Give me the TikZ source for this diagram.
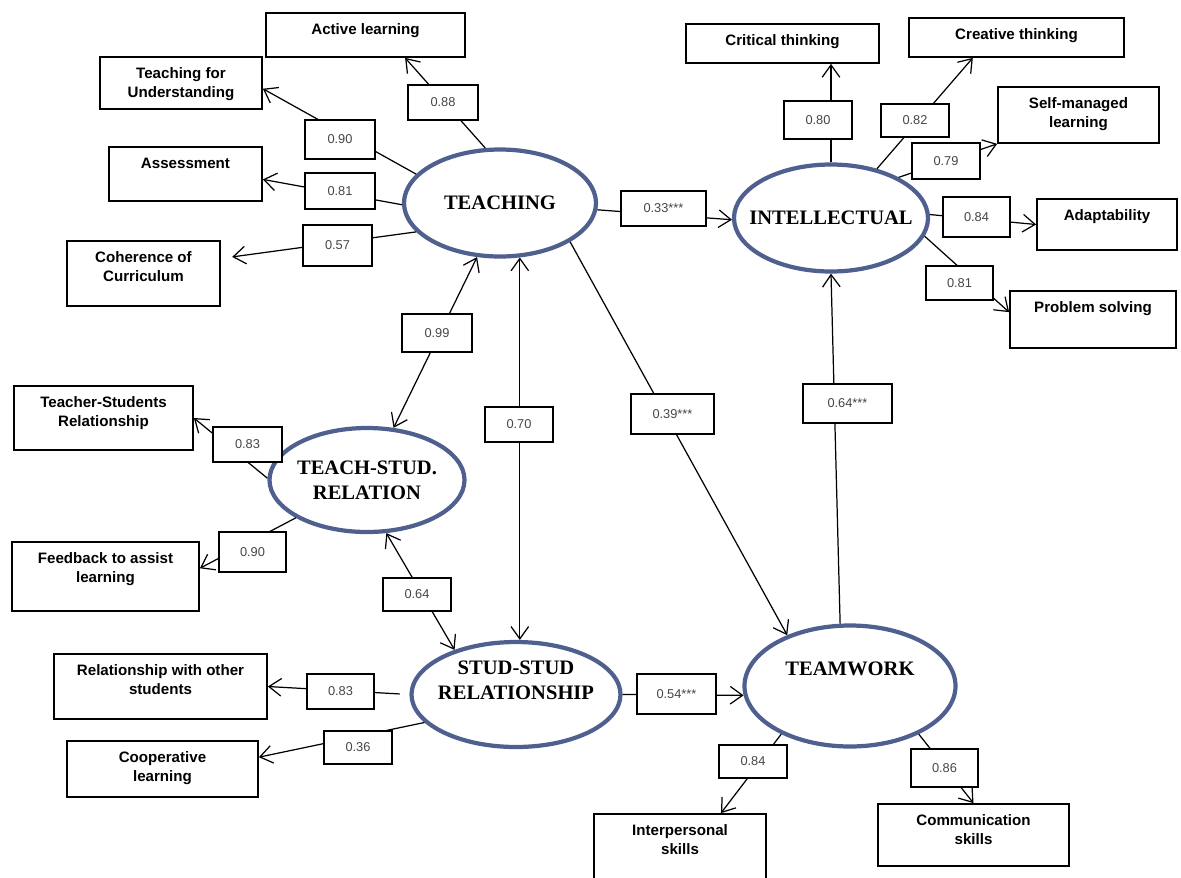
\documentclass[tikz,border=0pt]{standalone}
\usepackage{fontspec}
\setmainfont{Liberation Serif}
\setsansfont{Liberation Sans}
\usetikzlibrary{shapes.geometric,arrows.meta}
\newlength{\unitpx}
\setlength{\unitpx}{0.02cm}
\definecolor{latentblue}{RGB}{80,96,142}
\definecolor{estgray}{RGB}{70,70,70}

\begin{document}
\begin{tikzpicture}[x=\unitpx, y=-\unitpx,
  latent/.style={ellipse, draw=latentblue, line width=2.4pt, inner sep=-12pt, align=center,
    font=\bfseries\fontsize{11.7}{14.2}\selectfont},
  indic/.style={rectangle, draw, line width=1pt, inner sep=0pt},
  indtext/.style={anchor=north, yshift=-6.5pt, inner sep=0pt, align=center,
    font=\sffamily\bfseries\fontsize{8.6}{10.8}\selectfont},
  est/.style={rectangle, draw, fill=white, line width=0.9pt, inner sep=0pt, text=estgray,
    font=\sffamily\fontsize{7.3}{9}\selectfont},
  load/.style={line width=0.7pt, -{Straight Barb[length=7pt,width=10pt]}},
  corr/.style={line width=0.7pt, {Straight Barb[length=7pt,width=10pt]}-{Straight Barb[length=7pt,width=10pt]}}]
  \fill[white] (0,0) rectangle (1181,877);
  \useasboundingbox (0,0) rectangle (1181,877);
  \clip (0,0) rectangle (1181,877);

  % latent variables
  \node[latent, minimum width=192\unitpx, minimum height=107\unitpx] (teach) at (500,203) {TEACHING};
  \node[latent, minimum width=194\unitpx, minimum height=107\unitpx] (intel) at (831,218) {INTELLECTUAL};
  \node[latent, minimum width=195\unitpx, minimum height=104\unitpx] (tsrel) at (367,480) {TEACH-STUD.\\RELATION};
  \node[latent, minimum width=209\unitpx, minimum height=105\unitpx, text depth=16pt] (ssrel) at (516,694.5) {STUD-STUD\\RELATIONSHIP};
  \node[latent, minimum width=211\unitpx, minimum height=121\unitpx, text depth=20pt] (team) at (850,686) {TEAMWORK};

  % indicators
  \node[indic, minimum width=199\unitpx, minimum height=44\unitpx, label={[indtext]north:Active learning}] (actl) at (365.5,35) {};
  \node[indic, minimum width=162\unitpx, minimum height=52\unitpx, label={[indtext]north:{Teaching for\\Understanding}}] (tfu) at (181,83) {};
  \node[indic, minimum width=153\unitpx, minimum height=54\unitpx, label={[indtext]north:Assessment}] (asse) at (185.5,174) {};
  \node[indic, minimum width=153\unitpx, minimum height=65\unitpx, label={[indtext]north:{Coherence of\\Curriculum}}] (cohe) at (143.5,273.5) {};
  \node[indic, minimum width=193\unitpx, minimum height=39\unitpx, label={[indtext]north:Critical thinking}] (crit) at (782.5,43.5) {};
  \node[indic, minimum width=215\unitpx, minimum height=39\unitpx, label={[indtext]north:Creative thinking}] (crea) at (1016.5,37.5) {};
  \node[indic, minimum width=161\unitpx, minimum height=56\unitpx, label={[indtext]north:{Self-managed\\learning}}] (selfm) at (1078.5,115) {};
  \node[indic, minimum width=140\unitpx, minimum height=51\unitpx, label={[indtext]north:Adaptability}] (adapt) at (1107,224.5) {};
  \node[indic, minimum width=166\unitpx, minimum height=57\unitpx, label={[indtext]north:Problem solving}] (probs) at (1093,319.5) {};
  \node[indic, minimum width=179\unitpx, minimum height=64\unitpx, label={[indtext]north:{Teacher-Students\\Relationship}}] (tsr) at (103.5,418) {};
  \node[indic, minimum width=187\unitpx, minimum height=69\unitpx, label={[indtext]north:{Feedback to assist\\learning}}] (feed) at (105.5,576.5) {};
  \node[indic, minimum width=213\unitpx, minimum height=65\unitpx, label={[indtext]north:{Relationship with other\\students}}] (relo) at (160.5,686.5) {};
  \node[indic, minimum width=191\unitpx, minimum height=56\unitpx, label={[indtext]north:{Cooperative\\learning}}] (coop) at (162.5,769) {};
  \node[indic, minimum width=172\unitpx, minimum height=72\unitpx, label={[indtext]north:{Interpersonal\\skills}}] (inter) at (680,850) {};
  \node[indic, minimum width=191\unitpx, minimum height=62\unitpx, label={[indtext]north:{Communication\\skills}}] (comm) at (973.5,835) {};

  % measurement paths
  \draw[load] (teach.105) -- (actl.-30);
  \draw[load] (teach.161) -- (tfu.-4);
  \draw[load] (teach.181) -- (asse.-4.5);
  \draw[load, shorten >=6.5pt] (teach.199) -- (cohe.11.5);
  \draw[load] (intel.north) -- (intel.north |- crit.south);
  \draw[load] (intel.47) -- (crea.205);
  \draw[load] (intel.31) -- (selfm.south west);
  \draw[load] (intel.2) -- (adapt.west);
  \draw[load] (intel.-11) -- (probs.175);
  \draw[load] (tsrel.179) -- (tsr.east);
  \draw[load] (tsrel.208) -- (feed.5);
  \draw[load, shorten <=5.5pt] (ssrel.west) -- (relo.east);
  \draw[load] (ssrel.197) -- (coop.7);
  \draw[load] (team.215) -- (inter.42);
  \draw[load] (team.-35) -- (comm.north);

  % structural paths
  \draw[load] (teach.-4) -- (intel.181);
  \draw[load] (teach.-29) -- (team.141);
  \draw[load] (team.99) -- (intel.south);
  \draw[load] (ssrel.east) -- (team.185);
  \draw[corr] (teach.247) -- (tsrel.63);
  \draw[corr] (teach.-70) -- (teach.-70 |- ssrel.north);
  \draw[corr] (tsrel.-70) -- (ssrel.144);

  % estimates
  \foreach \nm/\cx/\cy/\w/\h/\val in {
    e88/443/102.5/70/35/0.88, e90u/340/139.5/70/39/0.90, e81a/340/191/70/36/0.81,
    e57/337.5/245.5/69/41/0.57, e80/818/120/68/38/0.80, e82/915/120.5/68/33/0.82,
    e79/946/161/68/36/0.79, e84a/976.5/217/67/40/0.84, e81p/959.5/283/67/34/0.81,
    e33/663.5/208.5/85/35/0.33***, e99/437/333/70/38/0.99, e70/519/424.5/68/35/0.70,
    e83t/247.5/444.5/69/35/0.83, e90f/252.5/552/67/40/0.90, e64/417/594.5/68/33/0.64,
    e83r/340.5/691.5/67/35/0.83, e36/358/747.5/68/33/0.36, e39/672.5/414/83/40/0.39***,
    e64t/847.5/403.5/89/39/0.64***, e54/676.5/694/79/40/0.54***,
    e84i/753/761.5/68/33/0.84, e86/944.5/768/67/38/0.86}
    \node[est, minimum width=\w\unitpx, minimum height=\h\unitpx] (\nm) at (\cx,\cy) {\val};
\end{tikzpicture}
\end{document}
